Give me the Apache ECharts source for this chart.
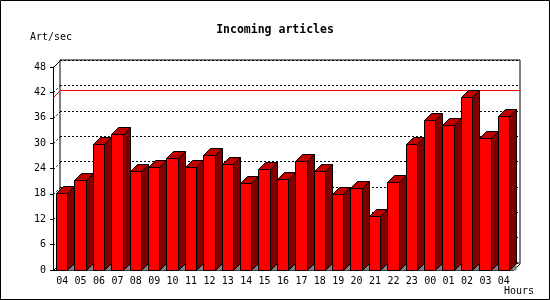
<!DOCTYPE html>
<html>
<head>
<meta charset="utf-8">
<script src="https://cdn.jsdelivr.net/npm/echarts@6/dist/echarts.min.js"></script>
<style>html,body{margin:0;padding:0;background:#fff}#c{width:550px;height:300px}</style>
</head>
<body>
<div id="c"></div>
<script>
const hours = ['04','05','06','07','08','09','10','11','12','13','14','15','16','17','18','19','20','21','22','23','00','01','02','03','04'];
const articles = [18.1,21.2,29.7,32.1,23.4,24.3,26.6,24.3,27.1,25.0,20.5,24.0,21.4,25.7,23.5,17.9,19.5,12.8,20.7,29.7,35.4,34.4,40.8,31.1,36.5];
const yTicks = [0,6,12,18,24,30,36,42,48];
const titleText = 'Incoming articles';
const yName = 'Art/sec';
const xName = 'Hours';

const D = 7;
const px = n => Math.round(n) + 0.5;
const FONT = '"DejaVu Sans Mono", "Liberation Mono", monospace';
const maxVal = Math.max.apply(null, articles);

function renderBar(params, api) {
  const i = api.value(0), v = api.value(1);
  const top = api.coord([i, v]);
  const base = api.coord([i, 0]);
  const slot = api.size([1, 0])[0];
  const x0 = px(top[0] - slot * 0.34);
  const x1 = px(top[0] - slot * 0.34 + slot * 0.62);
  const yt = px(top[1]);
  const yb = px(base[1]);
  const st = {stroke: '#000', lineWidth: 1};
  return {
    type: 'group',
    children: [
      {type: 'polygon', shape: {points: [[x1, yb], [x1 + D, yb - D], [x1 + D, yb]]}, style: {fill: '#808080'}},
      {type: 'polygon', shape: {points: [[x1, yt], [x1 + D, yt - D], [x1 + D, yb - D], [x1, yb]]}, style: Object.assign({fill: '#800000'}, st)},
      {type: 'polygon', shape: {points: [[x0, yt], [x0 + D, yt - D], [x1 + D, yt - D], [x1, yt]]}, style: Object.assign({fill: '#c00000'}, st)},
      {type: 'rect', shape: {x: x0, y: yt, width: x1 - x0, height: yb - yt}, style: Object.assign({fill: '#ff0000'}, st)}
    ]
  };
}

function renderWall(params, api) {
  const v = api.value(1);
  const cs = params.coordSys;
  const y = px(api.coord([0, v])[1]);
  const x0 = px(cs.x);
  const edge = (v === yTicks[0] || v === yTicks[yTicks.length - 1]);
  const children = [{
    type: 'line',
    shape: {x1: x0, y1: y, x2: x0 + D, y2: y - D},
    style: {stroke: '#000', lineWidth: 1, lineDash: edge ? null : [2, 2]}
  }];
  if (v === yTicks[0]) {
    const xr = px(cs.x + cs.width);
    children.push({type: 'line', shape: {x1: xr, y1: y, x2: xr + D, y2: y - D}, style: {stroke: '#000', lineWidth: 1}});
  }
  return {type: 'group', children: children};
}

function renderMax(params, api) {
  const v = api.value(1);
  const cs = params.coordSys;
  const y = px(api.coord([0, v])[1]);
  const x0 = px(cs.x);
  const xr = px(cs.x + cs.width);
  return {
    type: 'polyline',
    shape: {points: [[x0, y], [x0 + D, y - D], [xr + D, y - D]]},
    style: {stroke: '#ff0000', lineWidth: 1, fill: null}
  };
}

const chart = echarts.init(document.getElementById('c'), null, {renderer: 'canvas'});
chart.setOption({
  animation: false,
  backgroundColor: '#fff',
  textStyle: {fontFamily: FONT},
  title: {
    text: titleText, left: 'center', top: 19,
    textStyle: {fontFamily: FONT, fontWeight: 'bold', fontSize: 11.5, color: '#000'}
  },
  graphic: [
    {type: 'rect', shape: {x: 0.5, y: 0.5, width: 549, height: 299}, style: {fill: null, stroke: '#000', lineWidth: 1}, z: 100},
    {type: 'text', left: 30, top: 32, style: {text: yName, font: '10px ' + FONT, fill: '#000'}},
    {type: 'text', right: 16, top: 286, style: {text: xName, font: '10px ' + FONT, fill: '#000'}}
  ],
  grid: [
    {left: 53, right: 37, top: 67, bottom: 30},
    {left: 60, right: 30, top: 60, bottom: 37, show: true, borderColor: '#000', borderWidth: 1, backgroundColor: 'transparent'}
  ],
  xAxis: [
    {
      type: 'category', gridIndex: 0, data: hours,
      axisLine: {lineStyle: {color: '#000', width: 1}},
      axisTick: {length: 3, lineStyle: {color: '#000'}},
      axisLabel: {color: '#000', fontSize: 10, fontFamily: FONT, margin: 6, interval: 0},
      splitLine: {show: false}
    },
    {type: 'category', gridIndex: 1, data: hours, show: false}
  ],
  yAxis: [
    {
      type: 'value', gridIndex: 0, min: 0, max: 48, interval: 6,
      axisLine: {show: true, lineStyle: {color: '#000', width: 1}},
      axisTick: {show: true, length: 3, lineStyle: {color: '#000'}},
      axisLabel: {color: '#000', fontSize: 10, fontFamily: FONT, margin: 7},
      splitLine: {show: false}
    },
    {
      type: 'value', gridIndex: 1, min: 0, max: 48, interval: 6,
      axisLine: {show: false}, axisTick: {show: false}, axisLabel: {show: false},
      splitLine: {show: true, lineStyle: {color: '#000', width: 1, type: [2, 2]}}
    }
  ],
  series: [
    {
      type: 'custom', xAxisIndex: 0, yAxisIndex: 0, z: 1,
      data: yTicks.map(v => [0, v]), encode: {x: 0, y: 1},
      renderItem: renderWall, silent: true
    },
    {
      type: 'custom', xAxisIndex: 0, yAxisIndex: 0, z: 2,
      data: [[0, maxVal]], encode: {x: 0, y: 1},
      renderItem: renderMax, silent: true
    },
    {
      type: 'custom', xAxisIndex: 0, yAxisIndex: 0, z: 3,
      data: articles.map((v, i) => [i, v]), encode: {x: 0, y: 1},
      renderItem: renderBar
    }
  ]
});
</script>
</body>
</html>
